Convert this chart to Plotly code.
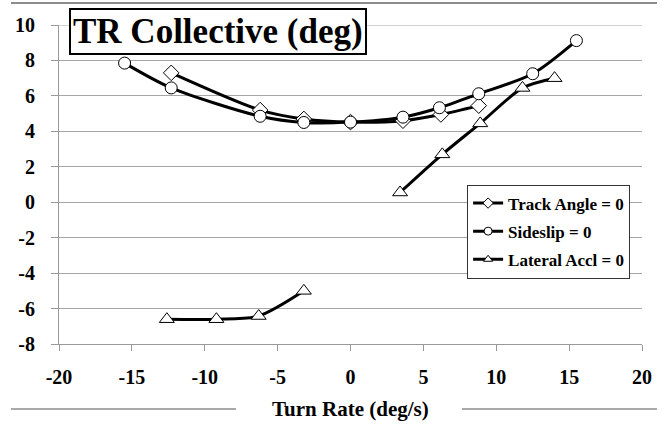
import plotly.graph_objects as go

# Turn rate (deg/s) and collective (deg) for each trim condition
track_x = [-12.3, -6.2, -3.2, 0.0, 3.6, 6.2, 8.8]
track_y = [7.3, 5.2, 4.7, 4.52, 4.6, 4.95, 5.45]

sideslip_x = [-15.5, -12.3, -6.2, -3.2, 0.0, 3.6, 6.1, 8.8, 12.5, 15.5]
sideslip_y = [7.85, 6.45, 4.85, 4.5, 4.52, 4.8, 5.33, 6.12, 7.25, 9.12]

lat_x = [-12.6, -9.2, -6.3, -3.2, None, 3.4, 6.3, 8.9, 11.8, 14.0]
lat_y = [-6.6, -6.6, -6.42, -5.0, None, 0.55, 2.7, 4.45, 6.45, 7.0]

x_ticks = [-20, -15, -10, -5, 0, 5, 10, 15, 20]
x_labels = ["-20", "-15", "-10", "-5", "0", "5", "10", "15", "20"]
y_ticks = [-8, -6, -4, -2, 0, 2, 4, 6, 8, 10]
y_labels = ["-8", "-6", "-4", "-2", "0", "2", "4", "6", "8", "10"]

FONT = "Liberation Serif"

fig = go.Figure()

series = [
    ("Track Angle = 0", track_x, track_y, "diamond", 12, 8),
    ("Sideslip = 0", sideslip_x, sideslip_y, "circle", 12, 8),
    ("Lateral Accl = 0", lat_x, lat_y, "triangle-up", 13, 8),
]
for i, (name, xs, ys, sym, size, legsize) in enumerate(series):
    fig.add_trace(go.Scatter(
        x=xs, y=ys, name=name, mode="lines+markers",
        connectgaps=False, showlegend=False,
        line=dict(color="black", width=3, shape="spline", smoothing=0.8),
        marker=dict(symbol=sym, size=size, color="white",
                    line=dict(color="black", width=1)),
    ))
    # legend key with a smaller symbol
    fig.add_trace(go.Scatter(
        x=[None], y=[None], name=name, mode="lines+markers",
        legendgroup=f"g{i}", showlegend=True,
        line=dict(color="black", width=3),
        marker=dict(symbol=sym, size=legsize, color="white",
                    line=dict(color="black", width=1)),
    ))

fig.update_layout(
    width=667, height=427,
    margin=dict(l=59, r=25, t=25, b=83),
    paper_bgcolor="white", plot_bgcolor="white",
    font=dict(family=FONT, color="black"),
    showlegend=True,
    legend=dict(
        x=0.70, y=0.50, xanchor="left", yanchor="top",
        bgcolor="white", bordercolor="#333333", borderwidth=1,
        font=dict(family=FONT, size=17, color="black", weight="bold"),
        itemwidth=30, tracegroupgap=3,
    ),
    xaxis=dict(
        range=[-20, 20], tickvals=x_ticks, ticktext=x_labels,
        showgrid=False, zeroline=False,
        showline=True, linecolor="#999999", linewidth=1,
        ticks="outside", ticklen=6, tickcolor="#999999",
        tickfont=dict(family=FONT, size=20, weight="bold"),
        ticklabelstandoff=9,
    ),
    yaxis=dict(
        range=[-8, 10], tickvals=y_ticks, ticktext=y_labels,
        showgrid=True, gridcolor="#a6a6a6",
        gridwidth=1, zeroline=False,
        showline=True, linecolor="#999999", linewidth=1,
        ticks="outside", ticklen=7, tickcolor="#999999",
        tickfont=dict(family=FONT, size=20, weight="bold"),
        ticklabelstandoff=12,
    ),
)

# Top gridline at the upper end of the value axis
fig.add_shape(type="line", xref="paper", yref="y", x0=0, x1=1, y0=10, y1=10,
              line=dict(color="#a6a6a6", width=1), layer="below")

# Chart title in a framed box at the upper left of the plot
fig.add_annotation(
    text="<b>TR Collective (deg)</b>", xref="paper", yref="paper",
    x=0.0165, y=1.053, xanchor="left", yanchor="top", showarrow=False,
    font=dict(family=FONT, size=35, color="black"),
    bgcolor="white", bordercolor="black", borderwidth=2, borderpad=2,
)

# X-axis title with rules on either side
fig.add_annotation(
    text="<b>Turn Rate (deg/s)</b>", xref="paper", yref="paper",
    x=0.5, y=-0.205, xanchor="center", yanchor="middle", showarrow=False,
    font=dict(family=FONT, size=21, color="black"),
)
for x0, x1 in [(11, 236), (462, 657)]:
    fig.add_shape(type="line", xref="paper", yref="paper",
                  x0=(x0 - 59) / 583, x1=(x1 - 59) / 583,
                  y0=(344 - 409) / 319, y1=(344 - 409) / 319,
                  line=dict(color="#8c8c8c", width=1.5))

# Top frame rule
fig.add_shape(type="line", xref="paper", yref="paper",
              x0=(11 - 59) / 583, x1=(657 - 59) / 583,
              y0=(344 - 3) / 319, y1=(344 - 3) / 319,
              line=dict(color="#8c8c8c", width=2))

fig.write_html("out.html")
